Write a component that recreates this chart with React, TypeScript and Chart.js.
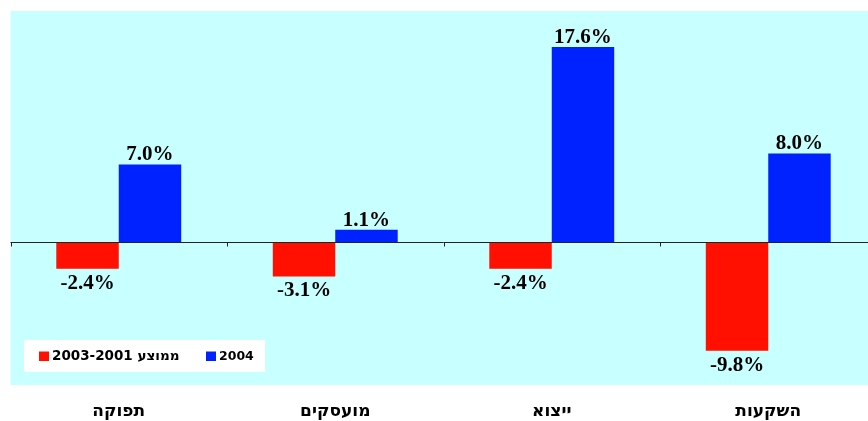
import React, { useEffect, useRef } from "react";
import { Chart, registerables } from "chart.js";

Chart.register(...registerables);

const categories = ["תפוקה", "מועסקים", "ייצוא", "השקעות"];
const avgLabel = "2003-2001 ממוצע";
const avgValues = [-2.4, -3.1, -2.4, -9.8];
const yearLabel = "2004";
const yearValues = [7.0, 1.1, 17.6, 8.0];

const RED = "#FF1000";
const BLUE = "#0022FF";
const BG = "#C8FFFF";

const bgPlugin = {
  id: "bgPlugin",
  beforeDraw(chart: any) {
    const { ctx, chartArea } = chart;
    ctx.save();
    ctx.fillStyle = BG;
    ctx.fillRect(chartArea.left, chartArea.top, chartArea.right - chartArea.left, chartArea.bottom - chartArea.top);
    ctx.restore();
  },
};

const zeroLinePlugin = {
  id: "zeroLinePlugin",
  afterDatasetsDraw(chart: any) {
    const { ctx, chartArea, scales } = chart;
    const y0 = Math.round(scales.y.getPixelForValue(0)) + 0.5;
    ctx.save();
    ctx.strokeStyle = "#222";
    ctx.lineWidth = 1;
    ctx.beginPath();
    ctx.moveTo(chartArea.left, y0);
    ctx.lineTo(chartArea.right, y0);
    const n = categories.length;
    for (let i = 0; i <= n; i++) {
      const x = Math.round(scales.x.getPixelForValue(i - 0.5)) + 0.5;
      ctx.moveTo(x, y0);
      ctx.lineTo(x, y0 + 4);
    }
    ctx.stroke();
    ctx.restore();
  },
};

const valueLabelPlugin = {
  id: "valueLabelPlugin",
  afterDatasetsDraw(chart: any) {
    const { ctx } = chart;
    ctx.save();
    ctx.fillStyle = "#000";
    ctx.font = "bold 21px 'Liberation Serif', 'Times New Roman', serif";
    ctx.textAlign = "center";
    chart.data.datasets.forEach((ds: any, di: number) => {
      const meta = chart.getDatasetMeta(di);
      meta.data.forEach((bar: any, i: number) => {
        const v = ds.data[i];
        const text = v.toFixed(1) + "%";
        if (v >= 0) {
          ctx.textBaseline = "alphabetic";
          ctx.fillText(text, bar.x, bar.y - 4);
        } else {
          ctx.textBaseline = "top";
          ctx.fillText(text, bar.x, bar.y + 4);
        }
      });
    });
    ctx.restore();
  },
};

const legendPlugin = {
  id: "customLegend",
  afterDraw(chart: any) {
    const { ctx, chartArea } = chart;
    const left = chartArea.left + 13.5;
    const bottom = chartArea.bottom - 13;
    const h = 32;
    const w = 241;
    ctx.save();
    ctx.fillStyle = "#fff";
    ctx.fillRect(left, bottom - h, w, h);
    ctx.textBaseline = "middle";
    ctx.textAlign = "left";
    const cy = bottom - h / 2;
    const items = [
      { label: chart.data.datasets[0].label, color: chart.data.datasets[0].backgroundColor, x: left + 15, size: 13.5 },
      { label: chart.data.datasets[1].label, color: chart.data.datasets[1].backgroundColor, x: left + 182, size: 12.5 },
    ];
    items.forEach((it) => {
      ctx.fillStyle = it.color;
      ctx.fillRect(it.x, cy - 4.5, 10, 9.5);
      ctx.fillStyle = "#000";
      ctx.font = `bold ${it.size}px 'DejaVu Sans', Verdana, sans-serif`;
      ctx.fillText(it.label, it.x + 13, cy + 0.5);
    });
    ctx.restore();
  },
};

export default function App() {
  const ref = useRef<HTMLCanvasElement>(null);

  useEffect(() => {
    if (!ref.current) return;
    const chart = new Chart(ref.current, {
      type: "bar",
      data: {
        labels: categories,
        datasets: [
          { label: avgLabel, data: avgValues, backgroundColor: RED, borderWidth: 0 },
          { label: yearLabel, data: yearValues, backgroundColor: BLUE, borderWidth: 0 },
        ],
      },
      options: {
        responsive: false,
        animation: false,
        devicePixelRatio: 1,
        layout: { padding: { left: 10.5, right: 0.5, top: 11, bottom: 0 } },
        datasets: { bar: { categoryPercentage: 0.577, barPercentage: 1 } },
        plugins: {
          legend: { display: false },
          tooltip: { enabled: false },
        },
        scales: {
          x: {
            grid: { display: false, drawTicks: false },
            border: { display: false },
            afterFit(scale: any) {
              scale.height = 36;
            },
            ticks: {
              padding: 17,
              color: "#000",
              font: { family: "'DejaVu Sans', Arial, sans-serif", size: 17, weight: "bold", lineHeight: 1.1 },
            },
          },
          y: {
            display: false,
            min: -12.9,
            max: 20.85,
          },
        },
      },
      plugins: [bgPlugin, zeroLinePlugin, valueLabelPlugin, legendPlugin],
    } as any);
    return () => chart.destroy();
  }, []);

  return (
    <div style={{ position: "absolute", left: 0, top: 0, width: 868, height: 421, overflow: "hidden", background: "#fff" }}>
      <canvas ref={ref} width={877} height={421} style={{ width: 877, height: 421, display: "block" }} />
    </div>
  );
}
